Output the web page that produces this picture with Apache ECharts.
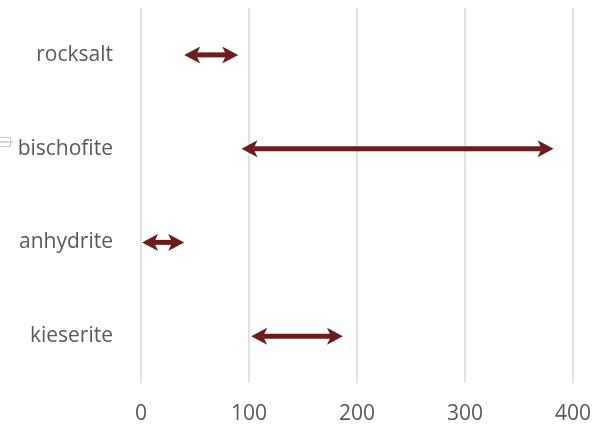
<!DOCTYPE html>
<html><head><meta charset="utf-8">
<script src="https://cdn.jsdelivr.net/npm/echarts@6/dist/echarts.min.js"></script>
<style>html,body{margin:0;padding:0;background:#fff}#c{width:592px;height:425px}</style>
</head><body><div id="c"></div>
<script>
const categories = ['kieserite', 'anhydrite', 'bischofite', 'rocksalt'];
const rangeStart = [102, 1, 93, 40];
const rangeEnd = [187, 40, 382, 90];
const xTicks = [0, 100, 200, 300, 400];

const chart = echarts.init(document.getElementById('c'));
const data = categories.map((c, i) => [i, rangeStart[i], rangeEnd[i]]);
const col = '#6b1d1d';
chart.setOption({
  animation: false,
  grid: {left: 141, right: 19, top: 8, bottom: 42, containLabel: false, outerBoundsMode: 'none'},
  xAxis: {type: 'value', min: xTicks[0], max: xTicks[xTicks.length - 1], interval: 100,
    axisLine: {show: false}, axisTick: {show: false},
    splitLine: {show: true, lineStyle: {color: '#d9d9d9', width: 1.5}},
    axisLabel: {color: '#595959', fontSize: 21, fontFamily: 'Open Sans', margin: 21}},
  yAxis: {type: 'category', data: categories,
    axisLine: {show: false}, axisTick: {show: false},
    axisLabel: {color: '#595959', fontSize: 21, fontFamily: 'Open Sans', margin: 28}},
  graphic: [{type: 'polyline', shape: {points: [[0.5,137.5],[10.5,137.5],[10.5,146.5],[0.5,146.5]]}, style: {stroke: '#c8c8c8', fill: null, lineWidth: 1}},
            {type: 'line', shape: {x1: 0, y1: 142, x2: 13, y2: 142}, style: {stroke: '#c8c8c8', lineWidth: 1.5}}],
  series: [{
    type: 'custom',
    data: data,
    encode: {x: [1, 2], y: 0},
    renderItem: function (params, api) {
      const p1 = api.coord([api.value(1), api.value(0)]);
      const p2 = api.coord([api.value(2), api.value(0)]);
      const y = p1[1];
      const x1 = p1[0], x2 = p2[0];
      const L = 16, H = 8.5, notch = 4, t = 2.5;
      return {type: 'group', children: [
        {type: 'rect', shape: {x: x1 + L - notch, y: y - t, width: (x2 - x1) - 2 * (L - notch), height: 2 * t}, style: {fill: col}},
        {type: 'polygon', shape: {points: [[x1, y], [x1 + L, y - H], [x1 + L - notch, y], [x1 + L, y + H]]}, style: {fill: col}},
        {type: 'polygon', shape: {points: [[x2, y], [x2 - L, y - H], [x2 - L + notch, y], [x2 - L, y + H]]}, style: {fill: col}}
      ]};
    }
  }]
});
</script></body></html>
